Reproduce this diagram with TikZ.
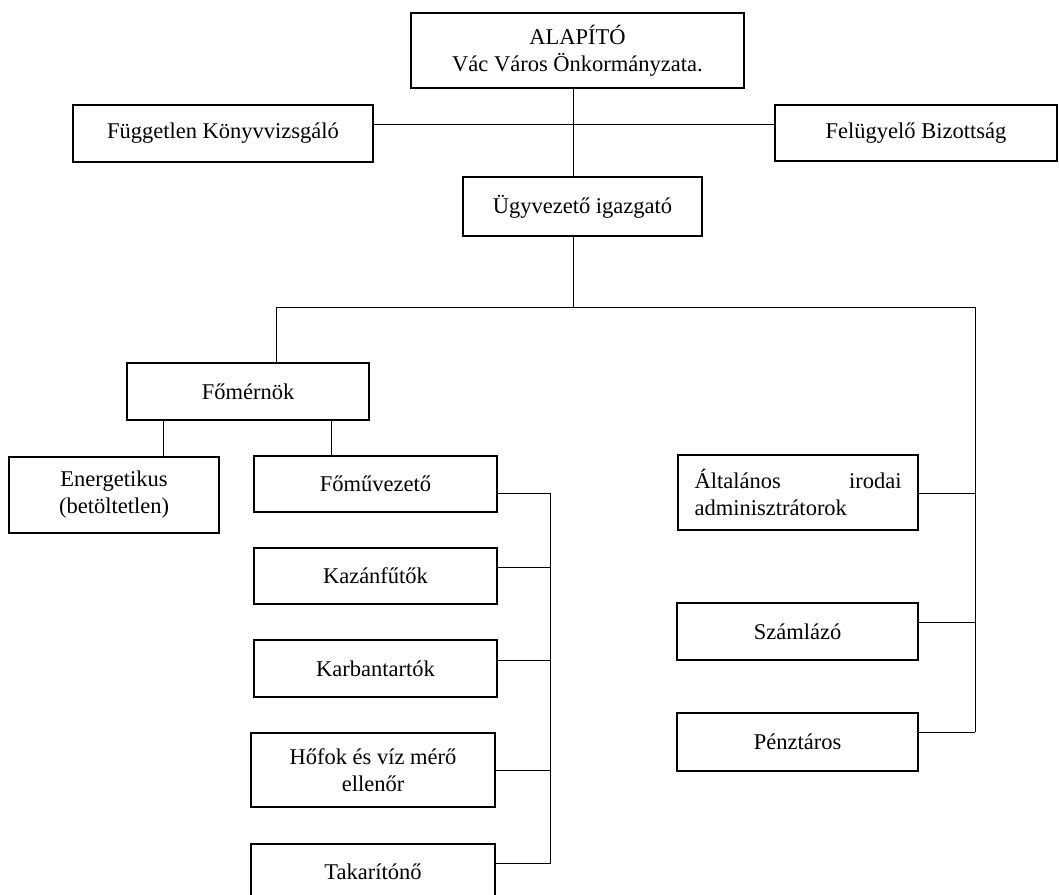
\documentclass[tikz,border=0pt]{standalone}
\usepackage{fontspec}
\setmainfont{Liberation Serif}
\begin{document}
\begin{tikzpicture}[x=1pt,y=-1pt,
  box/.style={draw,line width=2.6pt,rectangle,inner sep=0pt,outer sep=0pt,
    align=center,font=\fontsize{22.5}{27}\selectfont},
  conn/.style={line width=1pt}]
\useasboundingbox (0,0) rectangle (1059,894);
\fill[white] (0,0) rectangle (1059,894);
\clip (0,0) rectangle (1059,894);

% nodes
\node[box,minimum width=333pt,minimum height=75pt] (alap) at (577.5,50.5) {ALAPÍTÓ\\Vác Város Önkormányzata.};
\node[box,minimum width=300pt,minimum height=57pt] (fugg) at (223,133.5) {Független Könyvvizsgáló};
\node[box,minimum width=282pt,minimum height=56pt] (felu) at (916,133) {Felügyelő Bizottság};
\node[box,minimum width=239pt,minimum height=59pt] (ugy) at (582.5,206.5) {Ügyvezető igazgató};
\node[box,minimum width=242pt,minimum height=57pt] (fom) at (248,391.5) {Főmérnök};
\node[box,minimum width=210pt,minimum height=76pt] (ener) at (114,495) {Energetikus\\(betöltetlen)};
\node[box,minimum width=243pt,minimum height=56pt] (fomuv) at (375.5,484) {Főművezető};
\node[box,minimum width=243pt,minimum height=56pt] (kazan) at (375.5,576) {Kazánfűtők};
\node[box,minimum width=243pt,minimum height=57pt] (karb) at (375.5,668.5) {Karbantartók};
\node[box,minimum width=244pt,minimum height=74pt] (hofok) at (373,770) {Hőfok és víz mérő\\ellenőr};
\node[box,minimum width=244pt,minimum height=56pt] (takar) at (373,872) {Takarítónő};
\node[box,minimum width=240pt,minimum height=75pt,text width=207pt,align=left] (alt) at (798,492.5) {Általános\hfill irodai\\adminisztrátorok};
\node[box,minimum width=241pt,minimum height=57pt] (szaml) at (797.5,631.5) {Számlázó};
\node[box,minimum width=241pt,minimum height=58pt] (penz) at (797.5,742) {Pénztáros};

% helper coordinates
\coordinate (vx) at (573,124);
\coordinate (busL) at (276,307);
\coordinate (busR) at (975,307);
\coordinate (c1) at (163,420);
\coordinate (c2) at (331,420);
\coordinate (lb1) at (550,493);
\coordinate (lb2) at (550,567);
\coordinate (lb3) at (550,660);
\coordinate (lb4) at (550,770);
\coordinate (lb5) at (550,863);
\coordinate (rb1) at (975,493);
\coordinate (rb2) at (975,622);
\coordinate (rb3) at (975,732);

% top connectors
\draw[conn] (alap.south -| vx) -- (ugy.north -| vx);
\draw[conn] (fugg.east |- vx) -- (felu.west |- vx);
\draw[conn] (ugy.south -| vx) -- (busL -| vx);
\draw[conn] (busL) -- (busR);
\draw[conn] (busL) -- (fom.north -| busL);
\draw[conn] (busR) -- (rb3);

% Főmérnök children
\draw[conn] (c1) -- (ener.north -| c1);
\draw[conn] (c2) -- (fomuv.north -| c2);

% left bus
\draw[conn] (lb1 -| fomuv.east) -- (lb1) -- (lb5) -- (lb5 -| takar.east);
\draw[conn] (lb2) -- (lb2 -| kazan.east);
\draw[conn] (lb3) -- (lb3 -| karb.east);
\draw[conn] (lb4) -- (lb4 -| hofok.east);

% right bus
\draw[conn] (rb1) -- (rb1 -| alt.east);
\draw[conn] (rb2) -- (rb2 -| szaml.east);
\draw[conn] (rb3) -- (rb3 -| penz.east);
\end{tikzpicture}
\end{document}
